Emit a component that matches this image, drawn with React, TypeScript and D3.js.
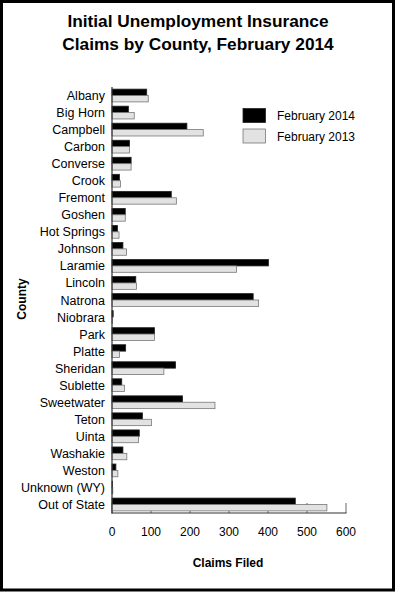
import React from "react";
import * as d3 from "d3";

const counties = [
  "Albany", "Big Horn", "Campbell", "Carbon", "Converse", "Crook", "Fremont", "Goshen",
  "Hot Springs", "Johnson", "Laramie", "Lincoln", "Natrona", "Niobrara", "Park", "Platte",
  "Sheridan", "Sublette", "Sweetwater", "Teton", "Uinta", "Washakie", "Weston",
  "Unknown (WY)", "Out of State",
];
const feb2014 = [89, 42, 192, 45, 49, 19, 152, 34, 14, 28, 401, 61, 362, 3, 109, 35, 163, 25, 181, 78, 70, 28, 10, 1, 470];
const feb2013 = [93, 57, 234, 45, 49, 22, 165, 34, 18, 37, 319, 63, 376, 1, 109, 19, 133, 32, 264, 101, 68, 38, 15, 2, 551];
const xTicks = [0, 100, 200, 300, 400, 500, 600];
const seriesNames = ["February 2014", "February 2013"];
const seriesColors = ["#000000", "#e2e2e2"];
const seriesStroke = ["#222222", "#777777"];

const W = 397, H = 594;
const font = "'Liberation Sans', Arial, sans-serif";

export default function App() {
  const x = d3.scaleLinear().domain([0, 600]).range([112, 346]);
  const y = d3.scaleBand().domain(counties).range([87, 513]).paddingInner(0.25).paddingOuter(0.125);
  const bh = y.bandwidth() / 2;
  const data = [feb2014, feb2013];

  return (
    <svg width={W} height={H} style={{ position: "absolute", left: 0, top: 0 }} fontFamily={font}>
      <rect x={0} y={0} width={W} height={H} fill="#fff" />
      <rect x={1.5} y={1.5} width={392} height={588.5} fill="none" stroke="#000" strokeWidth={3} />
      <text x={198} y={26.5} textAnchor="middle" fontSize={17.3} fontWeight="bold">Initial Unemployment Insurance</text>
      <text x={198} y={50} textAnchor="middle" fontSize={17.3} fontWeight="bold">Claims by County, February 2014</text>

      {/* ticks */}
      {xTicks.map((t) => (
        <line key={"t" + t} x1={x(t)} x2={x(t)} y1={513} y2={503} stroke="#666" strokeWidth={1} />
      ))}

      {/* bars */}
      {counties.map((c, i) =>
        data.map((s, k) => (
          <rect
            key={c + k}
            x={x(0)}
            y={(y(c) as number) + k * bh}
            width={Math.max(0, x(s[i]) - x(0))}
            height={bh}
            fill={seriesColors[k]}
            stroke={seriesStroke[k]}
            strokeWidth={0.8}
          />
        ))
      )}

      {/* axes */}
      <line x1={112} x2={112} y1={87} y2={513.5} stroke="#333" strokeWidth={1.2} />
      <line x1={111.5} x2={346.5} y1={513} y2={513} stroke="#333" strokeWidth={1.2} />

      {counties.map((c) => (
        <text key={"l" + c} x={105} y={(y(c) as number) + y.bandwidth() / 2 + 4.5} textAnchor="end" fontSize={12.5}>
          {c}
        </text>
      ))}

      {xTicks.map((t) => (
        <text key={"x" + t} x={x(t)} y={536} textAnchor="middle" fontSize={12}>{t}</text>
      ))}

      <text x={228} y={567} textAnchor="middle" fontSize={12} fontWeight="bold">Claims Filed</text>
      <text transform="translate(26,299) rotate(-90)" textAnchor="middle" fontSize={12} fontWeight="bold">County</text>

      {seriesNames.map((n, k) => (
        <g key={n}>
          <rect x={243} y={108.5 + k * 20.5} width={22.5} height={14} fill={seriesColors[k]} stroke={seriesStroke[k]} strokeWidth={0.8} />
          <text x={277} y={120 + k * 20.5} fontSize={12}>{n}</text>
        </g>
      ))}
    </svg>
  );
}
